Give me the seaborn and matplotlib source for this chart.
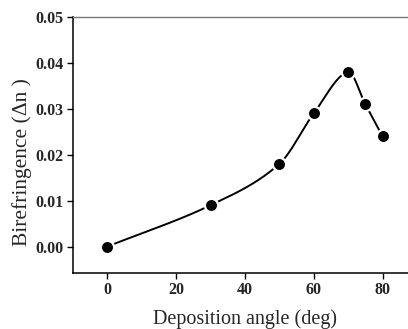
import numpy as np
import pandas as pd
import matplotlib
matplotlib.use("Agg")
import matplotlib.pyplot as plt
import seaborn as sns

# measured points
angle = [0, 30, 50, 60, 70, 75, 80]
biref = [0.000, 0.009, 0.018, 0.029, 0.038, 0.031, 0.024]
xticks = [0, 20, 40, 60, 80]
yticks = [0.00, 0.01, 0.02, 0.03, 0.04, 0.05]


def smooth_curve(xs, ys, n=40):
    # cubic hermite through the points, finite-difference tangents
    xs = np.asarray(xs, float)
    ys = np.asarray(ys, float)
    m = np.empty_like(ys)
    m[0] = (ys[1] - ys[0]) / (xs[1] - xs[0])
    m[-1] = (ys[-1] - ys[-2]) / (xs[-1] - xs[-2])
    m[1:-1] = (ys[2:] - ys[:-2]) / (xs[2:] - xs[:-2])
    px, py = [], []
    for i in range(len(xs) - 1):
        h = xs[i + 1] - xs[i]
        t = np.linspace(0, 1, n, endpoint=False)
        h00 = 2 * t**3 - 3 * t**2 + 1
        h10 = t**3 - 2 * t**2 + t
        h01 = -2 * t**3 + 3 * t**2
        h11 = t**3 - t**2
        px.extend(xs[i] + t * h)
        py.extend(h00 * ys[i] + h10 * h * m[i] + h01 * ys[i + 1] + h11 * h * m[i + 1])
    px.append(xs[-1])
    py.append(ys[-1])
    return pd.DataFrame({"x": px, "y": py})


sns.set_style("ticks")
plt.rcParams["font.family"] = ["Liberation Serif", "DejaVu Serif"]

fig = plt.figure(figsize=(4.08, 3.29), dpi=100)
ax = fig.add_axes([0.1789, 0.1711, 0.843, 0.7772])

curve = smooth_curve(angle, biref)
sns.lineplot(data=curve, x="x", y="y", ax=ax, color="black", linewidth=1.4,
             sort=False, estimator=None)
pts = pd.DataFrame({"angle": angle, "biref": biref})
ax.plot(pts["angle"], pts["biref"], linestyle="none", marker="o",
        markersize=9.5, markerfacecolor="black", markeredgecolor="white",
        markeredgewidth=1.6, zorder=3)

ax.set_xlim(-10, 90)
ax.set_ylim(-0.0057, 0.05)
ax.set_xticks(xticks)
ax.set_yticks(yticks)
ax.set_xticklabels([str(v) for v in xticks])
ax.set_yticklabels([f"{v:.2f}" for v in yticks])
for lab in ax.get_xticklabels() + ax.get_yticklabels():
    lab.set_fontweight("bold")
    lab.set_fontsize(11.5)
ax.tick_params(direction="out", length=4.3, width=1, color="black", pad=2.5)

for side in ["left", "bottom"]:
    ax.spines[side].set_color("black")
    ax.spines[side].set_linewidth(1.1)
ax.spines["top"].set_color("#777777")
ax.spines["top"].set_linewidth(1.0)
ax.spines["right"].set_visible(False)

ax.set_xlabel("Deposition angle (deg)", fontsize=14.5)
ax.set_ylabel("Birefringence (\u0394n )", fontsize=15.5)
ax.xaxis.set_label_coords(0.5, -0.142)
ax.yaxis.set_label_coords(-0.119, 0.431)

fig.savefig("out.png", dpi=100)
